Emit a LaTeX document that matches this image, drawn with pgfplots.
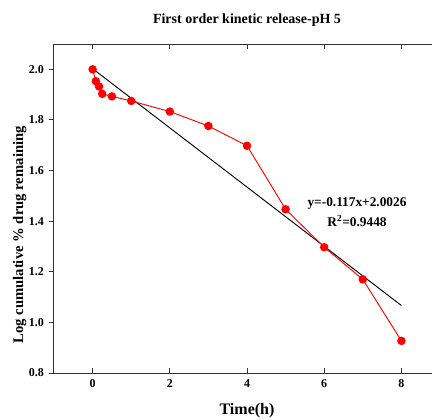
\documentclass[border=0pt]{standalone}
\usepackage{fontspec}
\setmainfont{Liberation Serif}
\usepackage{pgfplots}
\pgfplotsset{compat=1.18}

% Release profile at pH 5: log of the cumulative % of drug remaining
\pgfplotstableread{
t      logrem
0      2.000
0.083  1.953
0.167  1.932
0.25   1.903
0.5    1.893
1      1.875
2      1.833
3      1.776
4      1.698
5      1.447
6      1.297
7      1.170
8      0.927
}\release

% First-order fit: y = -0.117x + 2.0026
\pgfplotstableread{
t  fit
0  2.0026
8  1.0666
}\fitline

\begin{document}
\begin{tikzpicture}
\begin{axis}[
  at={(0,0)}, anchor=south west,
  scale only axis,
  width=289.5pt, height=246.75pt,
  xmin=-1, xmax=9,
  ymin=0.8, ymax=2.1,
  xtick={0,2,4,6,8},
  ytick={0.8,1.0,1.2,1.4,1.6,1.8,2.0},
  yticklabel style={/pgf/number format/.cd,fixed,fixed zerofill,precision=1},
  xticklabel style={yshift=-1.5pt},
  /pgf/number format/assume math mode=true,
  ticklabel style={font=\fontsize{9}{10}\selectfont\bfseries},
  xtick pos=both, ytick pos=left,
  xticklabel pos=lower,
  xtick align=inside, ytick align=outside,
  major tick length=4pt,
  axis line style={line width=0.75pt, black!80},
  tick style={line width=0.75pt, black!80},
  xlabel={Time(h)},
  ylabel={Log cumulative \% drug remaining},
  xlabel style={font=\fontsize{12}{14}\selectfont\bfseries, yshift=-5pt},
  ylabel style={font=\fontsize{11}{13}\selectfont\bfseries,
    at={(ticklabel cs:0.42)}},
  ylabel shift=-5pt,
  title={First order kinetic release-pH 5},
  title style={font=\fontsize{10.5}{12}\selectfont\bfseries, yshift=3.5pt},
  clip=false,
]
\addplot[black, line width=0.7pt] table[x=t, y=fit] {\fitline};
\addplot[red, line width=0.7pt, mark=*, mark size=2.8pt,
  mark options={fill=red, draw=red}] table[x=t, y=logrem] {\release};
\node[align=center, font=\fontsize{10}{15}\selectfont\bfseries]
  at (axis cs:6.85,1.435) {y=-0.117x+2.0026\\R$^{\mathbf{2}}$=0.9448};
\end{axis}
\pgfresetboundingbox
\useasboundingbox (-40.5pt,-34.5pt) rectangle (283.5pt,279.75pt);
\end{tikzpicture}
\end{document}
